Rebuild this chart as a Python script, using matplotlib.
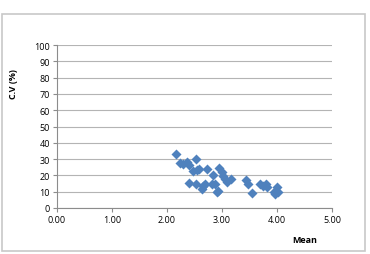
import matplotlib
matplotlib.use("Agg")
import matplotlib.pyplot as plt
from matplotlib.patches import Rectangle

# mean values (x) and coefficient of variation (y)
mean = [2.16, 2.24, 2.29, 2.36, 2.40, 2.53, 2.47, 2.55, 2.58, 2.73,
        2.40, 2.53, 2.64, 2.65, 2.69, 2.82, 2.87, 2.84, 2.91, 2.93,
        2.95, 3.00, 3.02, 3.05, 3.09, 3.16, 3.44, 3.47, 3.55, 3.69,
        3.75, 3.80, 3.82, 3.96, 3.95, 4.00, 4.02]
cv = [33.1, 27.6, 27.0, 28.2, 26.4, 30.0, 22.7, 23.3, 24.0, 24.0,
      15.3, 14.7, 11.7, 13.5, 14.7, 14.7, 14.7, 20.0, 9.8, 10.4,
      24.5, 22.0, 19.6, 17.8, 16.0, 17.8, 17.2, 14.7, 9.2, 14.7,
      13.5, 14.7, 12.9, 8.6, 9.8, 12.9, 9.8]
xticks = [0, 1, 2, 3, 4, 5]
yticks = list(range(0, 101, 10))

plt.rcParams['font.family'] = ['Open Sans', 'DejaVu Sans']

fig = plt.figure(figsize=(3.7, 2.55), dpi=100)
ax = fig.add_axes([57/370, 1 - 209/255, (332-57)/370, (209-46)/255])

# chart border
fig.patches.append(Rectangle((2/370, 3/255), 363/370, 237/255, transform=fig.transFigure,
                             fill=False, edgecolor='#c8c8c8', linewidth=1.2))

ax.scatter(mean, cv, marker='D', s=26, color='#4f81bd', zorder=3, linewidths=0)

ax.set_xlim(0, 5)
ax.set_ylim(0, 100)
ax.set_xticks(xticks)
ax.set_xticklabels(['%.2f' % v for v in xticks])
ax.set_yticks(yticks)
ax.grid(True, axis='y', color='#b4b4b4', linewidth=0.8)
ax.set_axisbelow(True)
for s in ['top', 'right']:
    ax.spines[s].set_visible(False)
for s in ['left', 'bottom']:
    ax.spines[s].set_color('#8c8c8c')
    ax.spines[s].set_linewidth(0.8)
ax.tick_params(axis='both', labelsize=6.5, length=3, width=0.8, color='#8c8c8c', pad=2)

fig.text(305/370, 1 - 241/255, 'Mean', fontsize=6.5, fontweight='bold', ha='center', va='center')
fig.text(13/370, 1 - 84/255, 'C.V (%)', fontsize=6.5, fontweight='bold', ha='center', va='center',
         rotation=90)

fig.savefig('out.png', dpi=100)
